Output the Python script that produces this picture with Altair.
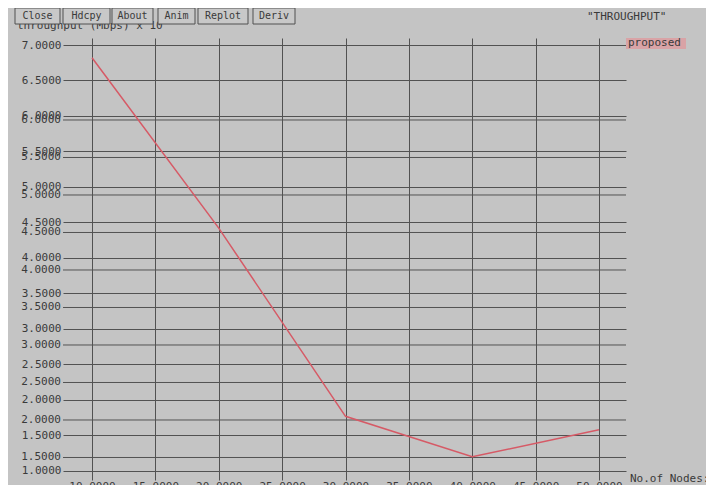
import altair as alt
import pandas as pd

# ---- data ----
nodes = [10, 20, 30, 40, 50]
throughput = [6.82, 4.42, 1.77, 1.20, 1.58]
series_name = "proposed"

x_ticks = [10, 15, 20, 25, 30, 35, 40, 45, 50]
y_ticks = [1.0, 1.5, 2.0, 2.5, 3.0, 3.5, 4.0, 4.5, 5.0, 5.5, 6.0, 6.5, 7.0]
# second (ghost) set of grid lines visible in the screenshot
y_ticks_ghost = [1.5, 2.0, 2.5, 3.0, 3.5, 4.0, 4.5, 5.0, 5.5, 6.0]

buttons = ["Close", "Hdcpy", "About", "Anim", "Replot", "Deriv"]
y_title = "throughput (Mbps) x 10"
plot_title = "\"THROUGHPUT\""
x_title = "No.of Nodes:"

# ---- styling ----
BG = "#c4c4c4"
GRID = "#525252"
TXT = "#3a3a3a"
LINE = "#d65a66"
FONT = "DejaVu Sans Mono"
FS = 11
W, H = 563, 442

df = pd.DataFrame({"nodes": nodes, "throughput": throughput})
ghost = pd.DataFrame({"v": y_ticks_ghost})
one = pd.DataFrame({"a": [0]})

x_scale = alt.Scale(domain=[7.71, 52.13], nice=False, zero=False)
y_scale = alt.Scale(domain=[0.873, 7.0986], nice=False, zero=False)
ghost_scale = alt.Scale(domain=[1.2, 7.0933], nice=False, zero=False)

line = alt.Chart(df).mark_line(color=LINE, strokeWidth=1.5).encode(
    x=alt.X("nodes:Q", scale=x_scale,
            axis=alt.Axis(values=x_ticks, format=".4f", grid=True, gridColor=GRID,
                          gridOpacity=1, domain=False, ticks=False, tickSize=0,
                          labelPadding=0, labelFlush=False, labelOverlap=False,
                          labelFont=FONT, labelFontSize=FS, labelColor=TXT,
                          title=None)),
    y=alt.Y("throughput:Q", scale=y_scale,
            axis=alt.Axis(values=y_ticks, format=".4f", grid=True, gridColor=GRID,
                          gridOpacity=1, domain=False, ticks=False, tickSize=0,
                          labelPadding=2, labelOverlap=False, orient="left",
                          labelFont=FONT, labelFontSize=FS, labelColor=TXT,
                          title=None)),
)

ghost_rules = alt.Chart(ghost).mark_rule(color=GRID, strokeWidth=1).encode(
    y=alt.Y("v:Q", scale=ghost_scale, axis=None)
)
ghost_text = alt.Chart(ghost).mark_text(
    align="right", baseline="middle", font=FONT, fontSize=FS, color=TXT
).encode(
    y=alt.Y("v:Q", scale=ghost_scale, axis=None),
    x=alt.value(-2),
    text=alt.Text("v:Q", format=".4f"),
)
ghost_layer = alt.layer(ghost_rules, ghost_text)

deco = []
# y-axis title (partly hidden under the buttons)
deco.append(alt.Chart(one).mark_text(
    text=y_title, align="left", baseline="alphabetic", font=FONT, fontSize=FS, color=TXT
).encode(x=alt.value(-46), y=alt.value(-9)))

spans = [(-48, -3), (0, 47), (49, 90), (95, 132), (135, 185), (190, 232)]
for lbl, (a, b) in zip(buttons, spans):
    deco.append(alt.Chart(one).mark_rect(fill="#c8c8c8", stroke="#505050", strokeWidth=1).encode(
        x=alt.value(a), x2=alt.value(b), y=alt.value(-30), y2=alt.value(-14)))
    deco.append(alt.Chart(one).mark_text(
        text=lbl, align="center", baseline="middle", font=FONT, fontSize=10, color=TXT
    ).encode(x=alt.value((a + b) / 2), y=alt.value(-22)))

deco.append(alt.Chart(one).mark_text(
    text=plot_title, align="left", baseline="middle", font=FONT, fontSize=FS, color=TXT
).encode(x=alt.value(524), y=alt.value(-21)))

# legend
deco.append(alt.Chart(one).mark_rect(fill="#d9a3a6").encode(
    x=alt.value(563), x2=alt.value(623), y=alt.value(0), y2=alt.value(11)))
deco.append(alt.Chart(one).mark_text(
    text=series_name, align="left", baseline="middle", font=FONT, fontSize=FS, color=TXT
).encode(x=alt.value(565), y=alt.value(5)))

deco.append(alt.Chart(one).mark_text(
    text=x_title, align="left", baseline="middle", font=FONT, fontSize=FS, color=TXT
).encode(x=alt.value(567), y=alt.value(441)))

main_layer = alt.layer(line, *deco)

chart = alt.layer(ghost_layer, main_layer).resolve_scale(y="independent").properties(
    width=W, height=H,
    autosize=alt.AutoSizeParams(type="none"),
    padding={"left": 55, "top": 30, "right": 80, "bottom": 12},
    background=BG,
).configure_view(stroke=None)

chart.save("out.html", embed_options={"renderer": "svg", "actions": False})
